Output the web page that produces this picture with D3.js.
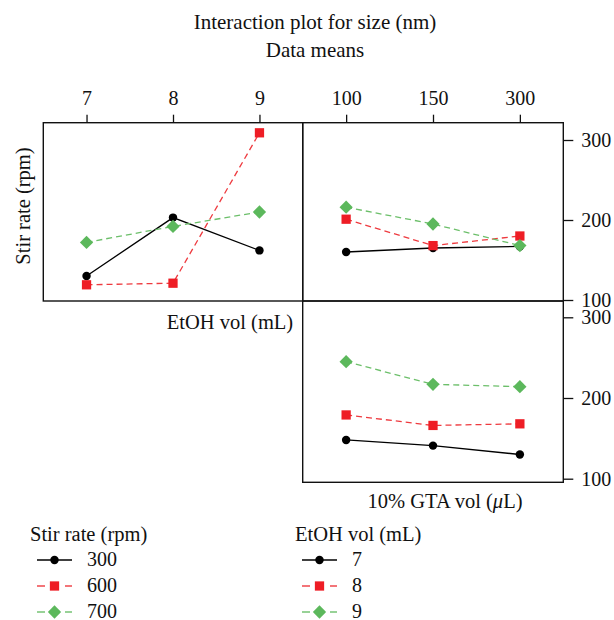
<!DOCTYPE html>
<html>
<head>
<meta charset="utf-8">
<script src="https://cdn.jsdelivr.net/npm/d3@7"></script>
<style>
  body { margin: 0; background: #fff; }
  svg text { font-family: "Liberation Serif", "Times New Roman", serif; fill: #111; }
</style>
</head>
<body>
<div id="chart"></div>
<script>
// levels of each factor
var etohLevels = ["7", "8", "9"];
var gtaLevels = ["100", "150", "300"];
var stirLevels = ["300", "600", "700"];
var yTicks = [100, 200, 300];

// means: stir rate vs EtOH vol
var stir300ByEtoh = [130, 203, 162];
var stir600ByEtoh = [119, 121, 309];
var stir700ByEtoh = [172, 192, 210];

// means: stir rate vs GTA vol
var stir300ByGta = [160, 165, 167];
var stir600ByGta = [201, 168, 180];
var stir700ByGta = [216, 195, 168];

// means: EtOH vol vs GTA vol
var etoh7ByGta = [148, 141, 130];
var etoh8ByGta = [179, 166, 168];
var etoh9ByGta = [245, 217, 214];

var width = 614, height = 620;

var styles = [
    { line: "#000", fill: "#000", dash: null, shape: d3.symbolCircle, size: 56, rot: 0 },
    { line: "#ee3a3f", fill: "#ee1d25", dash: "6,4", shape: d3.symbolSquare, size: 86, rot: 0 },
    { line: "#6cbf6a", fill: "#5cb85c", dash: "6,4", shape: d3.symbolSquare, size: 88, rot: 45 }
];

var svg = d3.select("#chart").append("svg")
    .attr("width", width)
    .attr("height", height);

// titles
svg.append("text").attr("x", 315).attr("y", 29)
    .attr("text-anchor", "middle").style("font-size", "21px")
    .text("Interaction plot for size (nm)");
svg.append("text").attr("x", 315).attr("y", 57)
    .attr("text-anchor", "middle").style("font-size", "21px")
    .text("Data means");

var x0 = 43.3, x1 = 302.7, x2 = 563.3;
var yTop = 122.7, yMid = 301, yBot = 482.3;

var xEtoh = d3.scalePoint().domain(etohLevels).range([x0, x1]).padding(0.5);
var xGta = d3.scalePoint().domain(gtaLevels).range([x1, x2]).padding(0.5);
var yUpper = d3.scaleLinear().domain([100, 300]).range([300, 140]);
var yLower = d3.scaleLinear().domain([100, 300]).range([478.7, 317.3]);

function marker(s) {
    return d3.symbol().type(s.shape).size(s.size)();
}

function panel(x, y, top, bottom, groups, xLevels) {
    var g = svg.append("g");
    g.append("rect")
        .attr("x", x.range()[0]).attr("y", top)
        .attr("width", x.range()[1] - x.range()[0])
        .attr("height", bottom - top)
        .attr("fill", "none").attr("stroke", "#111").attr("stroke-width", 1.4);

    var line = d3.line()
        .x(function(d, i) { return x(xLevels[i]); })
        .y(function(d) { return y(d); });

    groups.forEach(function(vals, k) {
        var s = styles[k];
        g.append("path")
            .datum(vals)
            .attr("d", line)
            .attr("fill", "none")
            .attr("stroke", s.line)
            .attr("stroke-width", 1.3)
            .attr("stroke-dasharray", s.dash);
        g.selectAll(null)
            .data(vals)
            .enter()
            .append("path")
            .attr("d", marker(s))
            .attr("transform", function(d, i) {
                return "translate(" + x(xLevels[i]) + "," + y(d) + ") rotate(" + s.rot + ")";
            })
            .attr("fill", s.fill);
    });
}

panel(xEtoh, yUpper, yTop, yMid, [stir300ByEtoh, stir600ByEtoh, stir700ByEtoh], etohLevels);
panel(xGta, yUpper, yTop, yMid, [stir300ByGta, stir600ByGta, stir700ByGta], gtaLevels);
panel(xGta, yLower, yMid, yBot, [etoh7ByGta, etoh8ByGta, etoh9ByGta], gtaLevels);

// top x axes
function topAxis(x) {
    var a = svg.append("g")
        .attr("transform", "translate(0," + yTop + ")")
        .call(d3.axisTop(x).tickSize(8).tickPadding(10));
    a.select(".domain").remove();
    a.selectAll("line").attr("stroke", "#111").attr("stroke-width", 1.3);
    a.selectAll("text").style("font-size", "20px").attr("fill", "#111");
}
topAxis(xEtoh);
topAxis(xGta);

// right y axes
function rightAxis(y) {
    var a = svg.append("g")
        .attr("transform", "translate(" + x2 + ",0)")
        .call(d3.axisRight(y).tickValues(yTicks).tickSize(10).tickPadding(8));
    a.select(".domain").remove();
    a.selectAll("line").attr("stroke", "#111").attr("stroke-width", 1.3);
    a.selectAll("text").style("font-size", "20px").attr("fill", "#111");
}
rightAxis(yUpper);
rightAxis(yLower);

// axis labels
svg.append("text")
    .attr("transform", "translate(30,206) rotate(-90)")
    .attr("text-anchor", "middle").style("font-size", "20.5px")
    .text("Stir rate (rpm)");
svg.append("text").attr("x", 230).attr("y", 329)
    .attr("text-anchor", "middle").style("font-size", "20.5px")
    .text("EtOH vol (mL)");
var gtaLab = svg.append("text").attr("x", 445).attr("y", 508)
    .attr("text-anchor", "middle").style("font-size", "20.5px");
gtaLab.append("tspan").text("10% GTA vol (");
gtaLab.append("tspan").style("font-style", "italic").text("μ");
gtaLab.append("tspan").text("L)");

// legends
function legend(x, title, labels) {
    var g = svg.append("g").attr("transform", "translate(" + x + ",0)");
    g.append("text").attr("x", 0).attr("y", 541).style("font-size", "20.5px").text(title);
    labels.forEach(function(lab, k) {
        var s = styles[k];
        var cy = 560 + k * 26;
        var segs = s.dash ? [[7, 15], [35, 42]] : [[7, 42]];
        segs.forEach(function(sg) {
            g.append("line")
                .attr("x1", sg[0]).attr("x2", sg[1]).attr("y1", cy).attr("y2", cy)
                .attr("stroke", s.line).attr("stroke-width", 1.4);
        });
        g.append("path")
            .attr("d", marker(s))
            .attr("transform", "translate(24.5," + cy + ") rotate(" + s.rot + ")")
            .attr("fill", s.fill);
        g.append("text").attr("x", 57).attr("y", cy + 6)
            .style("font-size", "20px").text(lab);
    });
}
legend(30, "Stir rate (rpm)", stirLevels);
legend(295, "EtOH vol (mL)", etohLevels);
</script>
</body>
</html>
